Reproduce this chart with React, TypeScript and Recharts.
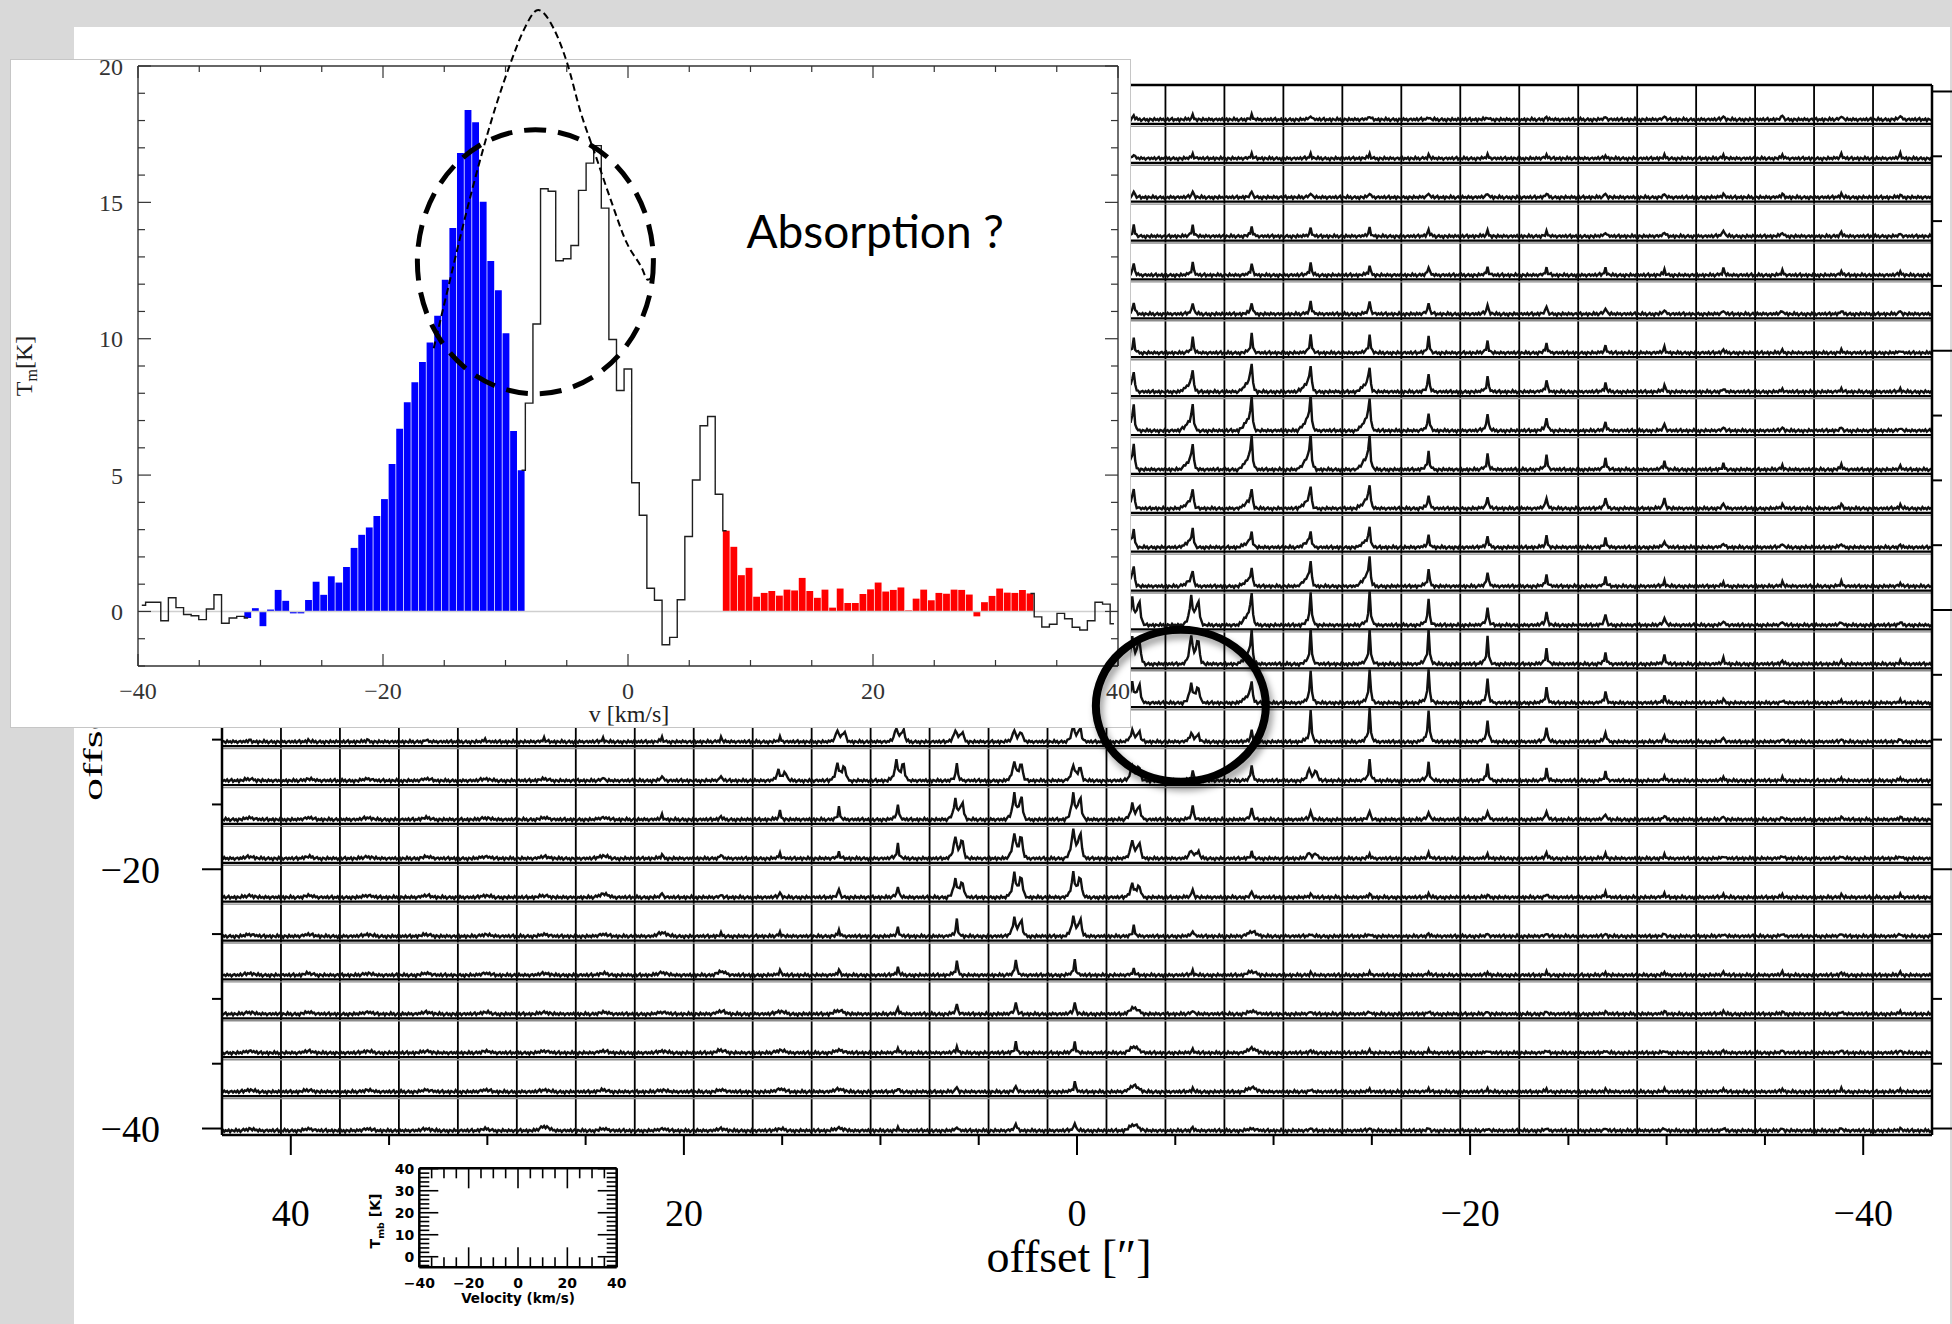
import React from 'react';
import { ComposedChart, Line, Bar, Cell, XAxis, YAxis, ReferenceLine, ReferenceDot } from 'recharts';

// ---------- inset spectrum: one channel every 0.62 km/s starting at -40 km/s ----------
const CHANNEL_START = -40;
const CHANNEL_WIDTH = 0.62;
const SPECTRUM_T = [
  0.23, 0.34, 0.34, -0.34, 0.5, 0.14, -0.11, -0.16, -0.3, 0.09,
  0.61, -0.43, -0.24, -0.18, -0.24, 0.12, -0.54, 0.07, 0.79, 0.39,
  -0.07, -0.07, 0.42, 1.09, 0.61, 1.29, 1.06, 1.63, 2.33, 2.81,
  3.08, 3.5, 4.12, 5.41, 6.7, 7.67, 8.4, 9.15, 9.86, 10.84,
  12.16, 14.06, 16.81, 18.39, 17.94, 15.02, 12.85, 11.78, 10.2, 6.62,
  5.18, 7.64, 10.54, 15.5, 15.41, 12.86, 12.93, 13.42, 15.44, 16.44,
  17.08, 14.79, 9.97, 8.1, 8.89, 4.72, 3.53, 0.85, 0.41, -1.22,
  -0.95, 0.43, 2.75, 4.82, 6.81, 7.15, 4.3, 2.96, 2.37, 1.33,
  1.6, 0.54, 0.68, 0.75, 0.58, 0.8, 0.77, 1.23, 0.75, 0.5,
  0.8, 0.14, 0.84, 0.31, 0.31, 0.64, 0.81, 1.06, 0.73, 0.79,
  0.88, 0.04, 0.47, 0.8, 0.41, 0.68, 0.65, 0.8, 0.79, 0.62,
  -0.18, 0.34, 0.57, 0.84, 0.69, 0.68, 0.79, 0.66, -0.2, -0.57,
  -0.47, -0.07, -0.27, -0.58, -0.68, -0.34, 0.34, 0.27, -0.45,
];
const BLUE_CHANNELS = [14, 50];
const RED_CHANNELS = [77, 117];
const INSET_V_TICKS = [-40, -35, -30, -25, -20, -15, -10, -5, 0, 5, 10, 15, 20, 25, 30, 35, 40];
const INSET_T_TICKS = [-2, -1, 0, 1, 2, 3, 4, 5, 6, 7, 8, 9, 10, 11, 12, 13, 14, 15, 16, 17, 18, 19, 20];

// hand-drawn dashed "fit" curve over the self-absorbed peak
const FIT_V = [-15.86, -14.65, -13.43, -12.11, -10.78, -9.56, -8.55, -7.33, -6.11, -4.99, -3.87, -2.65, -1.43, -0.11, 1.11, 1.62, 2.12];
const FIT_T = [9.65, 11.93, 14.21, 16.49, 18.54, 20.14, 21.28, 22.05, 21.41, 20.14, 18.31, 16.72, 15.12, 13.52, 12.61, 12.16, 12.38];

// ---------- spectral map: 29 x 27 cells, 3" apart ----------
const MAIN_TICKS = [-40, -35, -30, -25, -20, -15, -10, -5, 0, 5, 10, 15, 20, 25, 30, 35, 40];
const COL_OFFSETS = [42, 39, 36, 33, 30, 27, 24, 21, 18, 15, 12, 9, 6, 3, 0, -3, -6, -9, -12, -15, -18, -21, -24, -27, -30, -33, -36, -39, -42];
const ROW_OFFSETS = [39, 36, 33, 30, 27, 24, 21, 18, 15, 12, 9, 6, 3, 0, -3, -6, -9, -12, -15, -18, -21, -24, -27, -30, -33, -36, -39];
const CELL_V = [-39, -37, -35, -33, -31, -29, -27, -25, -23, -21, -19, -17, -15, -13, -11, -9, -7, -5, -3, -1,
  1, 3, 5, 7, 9, 11, 13, 15, 17, 19, 21, 23, 25, 27, 29, 31, 33, 35, 37, 39];

// line shapes on the CELL_V grid (peak = 1)
const PROFILE_NARROW = [0, 0, 0, 0, 0, 0, 0, 0, 0, 0, 0, 0, 0.02, 0.04, 0.06, 0.1, 0.16, 0.32, 1, 0.3,
  0.1, 0.05, 0.02, 0, 0, 0, 0, 0, 0, 0, 0, 0, 0, 0, 0, 0, 0, 0, 0, 0];
const PROFILE_WING = [0, 0, 0, 0, 0, 0, 0, 0, 0, 0, 0.05, 0.08, 0.12, 0.18, 0.25, 0.32, 0.4, 0.6, 1, 0.3,
  0.08, 0.03, 0, 0, 0, 0, 0, 0, 0, 0, 0, 0, 0, 0, 0, 0, 0, 0, 0, 0];
const PROFILE_DOUBLE = [0, 0, 0, 0, 0, 0, 0, 0, 0, 0, 0, 0, 0.04, 0.08, 0.15, 0.3, 0.6, 1, 0.6, 0.45,
  0.5, 0.75, 0.8, 0.3, 0.1, 0.04, 0, 0, 0, 0, 0, 0, 0, 0, 0, 0, 0, 0, 0, 0];
const PROFILE_BROAD = [0, 0, 0, 0, 0, 0, 0, 0, 0, 0, 0, 0, 0.1, 0.2, 0.35, 0.55, 0.75, 0.9, 1, 0.95,
  0.85, 0.65, 0.45, 0.28, 0.15, 0.07, 0, 0, 0, 0, 0, 0, 0, 0, 0, 0, 0, 0, 0, 0];
const BASELINE_RIPPLE = [0.8, -0.5, 1.4, -1.1, 0.4, 1.8, -1.3, 0.5, -0.4, 1.2, -1.6, 0.9, 0.1, -0.9, 1.9, -0.5, 1.0, -1.5, 0.0,
  1.3, -0.8, 0.5, -1.8, 1.0, 0.3, -1.2, 1.6, -0.4, 0.6, -1.0, 1.4, -0.3, 0.8, -1.4, 0.4, 1.1, -0.8];

// peak temperature [K] per cell, rows top->bottom, columns left->right
const PEAK_K = [
  [3, 3, 3, 3, 3, 3, 3, 3, 4, 4, 4, 4, 4, 5, 5, 5, 5, 5, 5, 4, 3, 3, 3, 3, 4, 4, 5, 5, 5],
  [3, 3, 3, 3, 3, 3, 4, 4, 4, 4, 4, 5, 5, 5, 5, 5, 5, 5, 5, 5, 4, 4, 4, 3, 3, 4, 4, 5, 5],
  [3, 3, 3, 3, 3, 4, 4, 4, 4, 5, 5, 5, 6, 6, 7, 7, 7, 7, 6, 5, 5, 5, 5, 5, 4, 4, 4, 4, 3],
  [3, 3, 3, 3, 4, 4, 4, 5, 5, 6, 6, 7, 8, 9, 10, 12, 13, 11, 9, 9, 8, 6, 5, 5, 5, 8, 5, 5, 3],
  [3, 3, 3, 3, 4, 4, 5, 5, 6, 6, 7, 8, 9, 11, 13, 14, 15, 13, 14, 11, 10, 9, 8, 8, 6, 8, 5, 4, 4],
  [3, 3, 3, 4, 4, 5, 5, 6, 6, 7, 8, 9, 10, 12, 13, 14, 14, 14, 15, 15, 13, 11, 9, 8, 5, 4, 4, 4, 4],
  [3, 3, 3, 4, 4, 5, 6, 7, 8, 9, 10, 11, 13, 15, 16, 17, 18, 22, 21, 21, 18, 14, 11, 8, 6, 4, 3, 3, 3],
  [3, 3, 4, 4, 5, 6, 7, 8, 9, 10, 12, 14, 16, 18, 21, 24, 26, 34, 31, 29, 21, 18, 13, 10, 8, 4, 3, 3, 3],
  [3, 3, 4, 4, 5, 6, 7, 9, 10, 12, 14, 16, 19, 22, 26, 29, 31, 39, 40, 39, 21, 21, 16, 10, 8, 4, 4, 4, 4],
  [3, 3, 4, 5, 5, 6, 8, 9, 11, 13, 15, 18, 21, 24, 27, 30, 31, 39, 40, 39, 21, 18, 16, 13, 10, 6, 5, 6, 4],
  [3, 3, 4, 5, 5, 6, 8, 9, 11, 13, 15, 17, 19, 21, 22, 23, 23, 23, 26, 29, 16, 14, 13, 13, 13, 6, 5, 5, 4],
  [3, 3, 4, 4, 5, 6, 7, 8, 10, 12, 14, 16, 18, 20, 21, 21, 21, 18, 18, 23, 13, 13, 13, 10, 8, 5, 5, 5, 3],
  [3, 3, 4, 4, 5, 6, 7, 9, 10, 12, 14, 16, 18, 20, 22, 24, 18, 21, 29, 34, 20, 17, 13, 10, 6, 4, 5, 5, 3],
  [3, 3, 4, 4, 5, 6, 8, 9, 11, 13, 16, 19, 22, 26, 30, 33, 34, 39, 40, 40, 31, 21, 16, 13, 10, 5, 4, 4, 4],
  [3, 3, 4, 4, 5, 6, 8, 10, 12, 14, 17, 20, 24, 28, 32, 33, 34, 39, 40, 40, 40, 31, 18, 13, 10, 6, 4, 3, 3],
  [3, 3, 3, 4, 4, 5, 7, 8, 10, 12, 15, 18, 21, 24, 26, 25, 23, 26, 39, 40, 40, 29, 18, 13, 8, 5, 3, 3, 3],
  [2, 2, 3, 3, 3, 4, 4, 5, 5, 5, 14, 17, 14, 14, 19, 14, 10, 14, 36, 38, 38, 26, 18, 12, 7, 5, 3, 3, 3],
  [2, 2, 2, 2, 2, 2, 5, 6, 6, 12, 21, 24, 21, 24, 19, 19, 12, 19, 14, 24, 21, 19, 14, 10, 5, 4, 3, 3, 3],
  [2, 2, 2, 2, 2, 2, 2, 5, 4, 10, 14, 19, 24, 31, 31, 19, 17, 14, 10, 10, 10, 10, 10, 7, 5, 4, 3, 3, 3],
  [2, 2, 2, 2, 2, 2, 3, 5, 5, 6, 7, 17, 26, 31, 36, 22, 10, 7, 7, 5, 6, 4, 7, 5, 4, 3, 3, 3, 3],
  [2, 2, 2, 2, 2, 2, 4, 5, 3, 6, 10, 14, 22, 29, 29, 17, 10, 7, 4, 4, 4, 3, 4, 6, 4, 3, 3, 3, 3],
  [2, 2, 2, 2, 2, 2, 2, 4, 3, 5, 7, 10, 19, 22, 24, 12, 7, 5, 3, 3, 3, 3, 3, 3, 3, 3, 3, 3, 3],
  [2, 2, 2, 2, 2, 2, 2, 3, 4, 6, 6, 9, 17, 19, 18, 7, 5, 4, 3, 3, 3, 3, 3, 3, 3, 3, 3, 3, 3],
  [2, 2, 2, 2, 2, 2, 2, 2, 3, 3, 4, 7, 12, 14, 14, 7, 5, 3, 3, 3, 3, 3, 3, 3, 3, 3, 3, 3, 3],
  [2, 2, 2, 2, 2, 2, 2, 2, 3, 3, 3, 5, 7, 12, 13, 7, 4, 5, 3, 3, 3, 3, 3, 3, 3, 3, 3, 3, 3],
  [2, 2, 2, 2, 2, 2, 2, 2, 2, 3, 3, 4, 6, 7, 12, 7, 4, 5, 3, 3, 3, 3, 3, 3, 3, 3, 3, 3, 3],
  [2, 2, 2, 2, 2, 5, 2, 2, 2, 2, 3, 3, 5, 9, 10, 7, 4, 2, 3, 3, 3, 3, 3, 3, 3, 3, 3, 3, 3],
];
// n = narrow line, w = narrow with blue wing, d = double peak, b = broad low bump
const SHAPE = [
  'nnnnnnnnnnnnnnnnnnnnnnnnnnnnn',
  'nnnnnnnnnnnnnnnnnnnnnnnnnnnnn',
  'nnnnnnnnnnnnnnnnnnnnnnnnnnnnn',
  'nnnnnnnnnnnnnnnnnnnnnnnnnnnnn',
  'nnnnnnnnnnnnnnnnnnnnnnnnnnnnn',
  'nnnnnnnnnnnnnnnnnnnnnnnnnnnnn',
  'nnnnnnnnnnnnnnnnnnnnnnnnnnnnn',
  'nnnnnnnnnnnnnnwwwwwwnnnnnnnnn',
  'nnnnnnnnnnnnnnwwwwwwnnnnnnnnn',
  'nnnnnnnnnnnnnnwwwwwwnnnnnnnnn',
  'nnnnnnnnnnnnnnwwwwwwnnnnnnnnn',
  'nnnnnnnnnnnnnnwwwwwwnnnnnnnnn',
  'nnnnnnnnnnnnnnwwwwwwnnnnnnnnn',
  'nnnnnnnnnnnnnnnddwnnnnnnnnnnn',
  'nnnnnnnnnnnnnnnddwnnnnnnnnnnn',
  'nnnnnnnnnnnnnnnddwnnnnnnnnnnn',
  'nnnnnnnnnnddddddd' + 'nnnnnnnnnnnn',
  'bbbbbbnnndddndddnndnnnnnnnnnn',
  'bbbbbbbnnnnnddddnnnnnnnnnnnnn',
  'bbbbbbbnnnnnddddd' + 'ndnnnnnnnnnn',
  'bbbbbbbnnnnnddddnnnnnnnnnnnnn',
  'bbbbbbbbnnnnnddnnbnnnnnnnnnnn',
  'bbbbbbbbbnnnnnnnnbnnnnnnnnnnn',
  'bbbbbbbbbbbnnnnbnbnnnnnnnnnnn',
  'bbbbbbbbbbbnnnnbnbnnnnnnnnnnn',
  'bbbbbbbbbbbnnnnbnbnnnnnnnnnnn',
  'bbbbbbbbbbbnnnnbnbnnnnnnnnnnn',
];

const KEY_V_TICKS = [-40, -35, -30, -25, -20, -15, -10, -5, 0, 5, 10, 15, 20, 25, 30, 35, 40];
const KEY_T_TICKS = [-4, -2, 0, 2, 4, 6, 8, 10, 12, 14, 16, 18, 20, 22, 24, 26, 28, 30, 32, 34, 36, 38, 40];

// ---------- derived tables ----------
const PROFILES: Record<string, number[]> = { n: PROFILE_NARROW, w: PROFILE_WING, d: PROFILE_DOUBLE, b: PROFILE_BROAD };
const CELL = 3;
const T_LO = -5;
const T_HI = 40.5;

const rowSeries = ROW_OFFSETS.map((yc, r) =>
  COL_OFFSETS.flatMap((xc, c) => {
    const prof = PROFILES[SHAPE[r][c]] || PROFILE_NARROW;
    return CELL_V.map((v, i) => {
      const t = BASELINE_RIPPLE[(i + 7 * c + 13 * r) % BASELINE_RIPPLE.length] + PEAK_K[r][c] * prof[i];
      return {
        x: xc + CELL / 2 - ((v + 40) / 80) * CELL,
        y: yc - CELL / 2 + ((t - T_LO) / (T_HI - T_LO)) * CELL,
      };
    });
  })
);

const inBlue = (i: number) => i >= BLUE_CHANNELS[0] && i <= BLUE_CHANNELS[1];
const inRed = (i: number) => i >= RED_CHANNELS[0] && i <= RED_CHANNELS[1];
const insetRows = SPECTRUM_T.map((t, i) => ({
  v: CHANNEL_START + CHANNEL_WIDTH * (i + 0.5),
  filled: inBlue(i) || inRed(i) ? t : null,
  outline:
    i <= BLUE_CHANNELS[0] || (i >= BLUE_CHANNELS[1] && i <= RED_CHANNELS[0]) || i >= RED_CHANNELS[1] ? t : null,
}));
const fitRows = FIT_V.map((v, i) => ({ v, t: FIT_T[i] }));
const keyRows = KEY_V_TICKS.map((v) => ({ v }));

// ---------- tick renderer (inward / outward, major + minor) ----------
type Side = 'top' | 'bottom' | 'left' | 'right';
interface TickStyle {
  side: Side;
  inward: boolean;
  majorStep: number;
  majorLen: number;
  minorLen: number;
  labels?: boolean;
  gap?: number;
  font?: string;
  size?: number;
  weight?: string;
  color?: string;
  width?: number;
}
const fmt = (v: number) => (v < 0 ? `\u2212${Math.abs(v)}` : `${v}`);

const makeTick = (s: TickStyle) => (props: any) => {
  const { x, y, payload } = props;
  const value = Number(payload.value);
  const q = value / s.majorStep;
  const major = Math.abs(q - Math.round(q)) < 1e-6;
  const len = major ? s.majorLen : s.minorLen;
  const away = s.side === 'bottom' || s.side === 'right' ? 1 : -1;
  const d = (s.inward ? -away : away) * len;
  const vert = s.side === 'top' || s.side === 'bottom';
  const color = s.color || '#000';
  const textProps = {
    fontFamily: s.font,
    fontSize: s.size,
    fontWeight: s.weight || 'normal',
    fill: color,
  };
  return (
    <g>
      {vert ? (
        <line x1={x} x2={x} y1={y} y2={y + d} stroke={color} strokeWidth={s.width || 1.5} />
      ) : (
        <line x1={x} x2={x + d} y1={y} y2={y} stroke={color} strokeWidth={s.width || 1.5} />
      )}
      {s.labels && major && s.side === 'bottom' && (
        <text x={x} y={y + (s.gap || 0)} textAnchor="middle" {...textProps}>
          {fmt(value)}
        </text>
      )}
      {s.labels && major && s.side === 'left' && (
        <text x={x - (s.gap || 0)} y={y} dy="0.36em" textAnchor="end" {...textProps}>
          {fmt(value)}
        </text>
      )}
    </g>
  );
};

const SERIF = 'Liberation Serif, DejaVu Serif, serif';

// ---------- the spectral map ----------
const MapXTitle = (props: any) => {
  const vb = props.viewBox || { x: 0, y: 0, width: 0 };
  return (
    <text x={vb.x + vb.width / 2 - 8} y={vb.y + 137} textAnchor="middle" fontFamily={SERIF} fontSize={46} fill="#000">
      offset [″]
    </text>
  );
};
const MapYTitle = () => (
  <text transform="translate(102 801) rotate(-90) scale(1 0.6)" fontFamily={SERIF} fontSize={46} fill="#000">
    offset [″]
  </text>
);

const SpectralMap = () => {
  const axisLine = { stroke: '#000', strokeWidth: 2.5 };
  const tk = { majorStep: 20, majorLen: 20, minorLen: 10, width: 2, font: SERIF, size: 38 };
  return (
    <ComposedChart width={1952} height={1324} margin={{ top: 65, right: 5, bottom: 89, left: 122 }}>
      <XAxis
        type="number"
        dataKey="x"
        domain={[-43.5, 43.5]}
        allowDataOverflow
        reversed
        ticks={MAIN_TICKS}
        interval={0}
        height={100}
        tickSize={0}
        tickMargin={0}
        tickLine={false}
        axisLine={axisLine}
        tick={makeTick({ side: 'bottom', inward: false, labels: true, gap: 91, ...tk })}
        label={<MapXTitle />}
      />
      <XAxis
        xAxisId="top"
        orientation="top"
        type="number"
        domain={[-43.5, 43.5]}
        allowDataOverflow
        reversed
        ticks={MAIN_TICKS}
        interval={0}
        height={20}
        tickSize={0}
        tickMargin={0}
        tickLine={false}
        axisLine={axisLine}
        tick={makeTick({ side: 'top', inward: false, ...tk })}
      />
      <YAxis
        type="number"
        domain={[-40.5, 40.5]}
        allowDataOverflow
        ticks={MAIN_TICKS}
        interval={0}
        width={100}
        tickSize={0}
        tickMargin={0}
        tickLine={false}
        axisLine={axisLine}
        tick={makeTick({ side: 'left', inward: false, labels: true, gap: 62, ...tk })}
        label={<MapYTitle />}
      />
      <YAxis
        yAxisId="right"
        orientation="right"
        type="number"
        domain={[-40.5, 40.5]}
        allowDataOverflow
        ticks={MAIN_TICKS}
        interval={0}
        width={15}
        tickSize={0}
        tickMargin={0}
        tickLine={false}
        axisLine={axisLine}
        tick={makeTick({ side: 'right', inward: false, ...tk })}
      />
      {COL_OFFSETS.slice(1).map((c) => (
        <ReferenceLine key={`v${c}`} x={c + CELL / 2} stroke="#000" strokeWidth={1.8} />
      ))}
      {ROW_OFFSETS.slice(0, -1).map((r) => (
        <ReferenceLine key={`h${r}`} y={r - CELL / 2} stroke="#000" strokeWidth={2.2} />
      ))}
      {ROW_OFFSETS.slice(0, -1).map((r) => (
        <ReferenceLine key={`g${r}`} y={r - CELL / 2 - 0.19} stroke="#8c8c8c" strokeWidth={1.4} />
      ))}
      {rowSeries.map((pts, r) => (
        <Line
          key={`row${r}`}
          data={pts}
          dataKey="y"
          type="linear"
          dot={false}
          activeDot={false}
          stroke="#111"
          strokeWidth={2.4}
          isAnimationActive={false}
        />
      ))}
    </ComposedChart>
  );
};

// ---------- small axes key (bottom left) ----------
const KEY_FONT = 'DejaVu Sans, Verdana, sans-serif';
const KeyXTitle = (props: any) => {
  const vb = props.viewBox || { x: 0, y: 0, width: 0 };
  return (
    <text x={vb.x + vb.width / 2} y={vb.y + 36} textAnchor="middle" fontFamily={KEY_FONT} fontWeight="bold" fontSize={13.5} fill="#000">
      Velocity (km/s)
    </text>
  );
};
const KeyYTitle = () => (
  <text transform="translate(40 71) rotate(-90)" textAnchor="middle" fontFamily={KEY_FONT} fontWeight="bold" fontSize={14} fill="#000">
    T
    <tspan fontSize={9.5} dy={4}>mb</tspan>
    <tspan dy={-4}> [K]</tspan>
  </text>
);

const VelocityKey = () => {
  const axisLine = { stroke: '#000', strokeWidth: 2.5 };
  const kx = { majorStep: 20, majorLen: 20, minorLen: 10, width: 1.6, font: KEY_FONT, size: 14, weight: 'bold' };
  const ky = { majorStep: 10, majorLen: 19, minorLen: 10, width: 1.6, font: KEY_FONT, size: 14, weight: 'bold' };
  return (
    <ComposedChart width={300} height={170} data={keyRows} margin={{ top: 8.3, right: 13.3, bottom: 22.7, left: 39.3 }}>
      <XAxis type="number" dataKey="v" domain={[-40, 40]} allowDataOverflow ticks={KEY_V_TICKS} interval={0} height={30}
        tickSize={0} tickMargin={0} tickLine={false} axisLine={axisLine}
        tick={makeTick({ side: 'bottom', inward: true, labels: true, gap: 21, ...kx })} label={<KeyXTitle />} />
      <XAxis xAxisId="top" orientation="top" type="number" dataKey="v" domain={[-40, 40]} allowDataOverflow ticks={KEY_V_TICKS}
        interval={0} height={10} tickSize={0} tickMargin={0} tickLine={false} axisLine={axisLine}
        tick={makeTick({ side: 'top', inward: true, ...kx })} />
      <YAxis type="number" domain={[-4.8, 40.2]} allowDataOverflow ticks={KEY_T_TICKS} interval={0} width={40}
        tickSize={0} tickMargin={0} tickLine={false} axisLine={axisLine}
        tick={makeTick({ side: 'left', inward: true, labels: true, gap: 5, ...ky })} label={<KeyYTitle />} />
      <YAxis yAxisId="right" orientation="right" type="number" domain={[-4.8, 40.2]} allowDataOverflow ticks={KEY_T_TICKS}
        interval={0} width={10} tickSize={0} tickMargin={0} tickLine={false} axisLine={axisLine}
        tick={makeTick({ side: 'right', inward: true, ...ky })} />
    </ComposedChart>
  );
};

// ---------- inset spectrum ----------
const InsetXTitle = () => (
  <text x={629} y={722} textAnchor="middle" fontFamily={SERIF} fontSize={24} fill="#222">
    v [km/s]
  </text>
);
const InsetYTitle = () => (
  <text transform="translate(32 366) rotate(-90)" textAnchor="middle" fontFamily={SERIF} fontSize={24} fill="#222">
    T
    <tspan fontSize={16} dy={5}>m</tspan>
    <tspan dy={-5}>[K]</tspan>
  </text>
);

const InsetSpectrum = () => {
  const axisLine = { stroke: '#333', strokeWidth: 1.4 };
  const tv = { majorStep: 20, majorLen: 12, minorLen: 6, width: 1.2, color: '#333', font: SERIF, size: 24 };
  const tt = { majorStep: 5, majorLen: 13, minorLen: 7, width: 1.2, color: '#333', font: SERIF, size: 24 };
  return (
    <ComposedChart width={1140} height={740} data={insetRows} barGap={0} barCategoryGap={0}
      margin={{ top: 56, right: 2, bottom: 34, left: 78 }}>
      <XAxis type="number" dataKey="v" domain={[-40, 40]} allowDataOverflow ticks={INSET_V_TICKS} interval={0}
        height={40} tickSize={0} tickMargin={0} tickLine={false} axisLine={axisLine}
        tick={makeTick({ side: 'bottom', inward: true, labels: true, gap: 33, ...tv })} label={<InsetXTitle />} />
      <XAxis xAxisId="top" orientation="top" type="number" dataKey="v" domain={[-40, 40]} allowDataOverflow ticks={INSET_V_TICKS}
        interval={0} height={10} tickSize={0} tickMargin={0} tickLine={false} axisLine={axisLine}
        tick={makeTick({ side: 'top', inward: true, ...tv })} />
      <YAxis type="number" domain={[-2, 20]} allowDataOverflow ticks={INSET_T_TICKS} interval={0} width={60}
        tickSize={0} tickMargin={0} tickLine={false} axisLine={axisLine}
        tick={makeTick({ side: 'left', inward: true, labels: true, gap: 15, ...tt })} label={<InsetYTitle />} />
      <YAxis yAxisId="right" orientation="right" type="number" domain={[-2, 20]} allowDataOverflow ticks={INSET_T_TICKS}
        interval={0} width={20} tickSize={0} tickMargin={0} tickLine={false} axisLine={axisLine}
        tick={makeTick({ side: 'right', inward: true, ...tt })} />
      <ReferenceLine y={0} stroke="#cfcfcf" strokeWidth={1.6} />
      <Line type="step" dataKey="outline" stroke="#1e1e1e" strokeWidth={1.4} dot={false} activeDot={false}
        connectNulls={false} isAnimationActive={false} />
      <Bar dataKey="filled" barSize={9} isAnimationActive={false}>
        {insetRows.map((_, i) => (
          <Cell key={i} fill={inBlue(i) ? '#0000ff' : '#ff0000'} />
        ))}
      </Bar>
    </ComposedChart>
  );
};

// ---------- annotations drawn in the inset's coordinates ----------
const AnnotationLayer = () => (
  <ComposedChart width={1952} height={1324} data={fitRows} margin={{ top: 0, right: 834, bottom: 658, left: 138 }}>
    <XAxis type="number" dataKey="v" domain={[-40, 40]} allowDataOverflow hide />
    <YAxis type="number" domain={[-2, 22.418]} allowDataOverflow hide />
    <Line type="monotone" dataKey="t" stroke="#000" strokeWidth={2} strokeDasharray="7 4" dot={false}
      activeDot={false} isAnimationActive={false} />
    <ReferenceDot
      x={-7.56}
      y={12.82}
      ifOverflow="visible"
      shape={(p: any) => (
        <ellipse cx={p.cx} cy={p.cy} rx={118} ry={132} fill="none" stroke="#000" strokeWidth={5} strokeDasharray="22 12" />
      )}
    />
    <ReferenceDot
      x={9.67}
      y={13.33}
      ifOverflow="visible"
      shape={(p: any) => (
        <text x={p.cx} y={p.cy} fontFamily="Lato, Open Sans, sans-serif" fontSize={46} fill="#000">
          Absorption ?
        </text>
      )}
    />
    <ReferenceDot
      x={45.13}
      y={-3.46}
      ifOverflow="visible"
      shape={(p: any) => (
        <g>
          <defs>
            <filter id="ringShadow" x="-30%" y="-30%" width="160%" height="160%">
              <feGaussianBlur stdDeviation="3" />
            </filter>
          </defs>
          <ellipse cx={p.cx + 3} cy={p.cy + 5} rx={85} ry={76} fill="none" stroke="#000" strokeOpacity={0.35}
            strokeWidth={9} filter="url(#ringShadow)" />
          <ellipse cx={p.cx} cy={p.cy} rx={85} ry={76} fill="none" stroke="#000" strokeWidth={8} />
        </g>
      )}
    />
  </ComposedChart>
);

export default function App() {
  const layer: React.CSSProperties = { position: 'absolute', left: 0, top: 0 };
  return (
    <div style={{ position: 'absolute', left: 0, top: 0, width: 1952, height: 1324, background: '#d9d9d9', overflow: 'hidden' }}>
      <div style={{ position: 'absolute', left: 74, top: 27, width: 1876, height: 1297, background: '#fff' }} />
      <div style={layer}>
        <SpectralMap />
      </div>
      <div style={{ position: 'absolute', left: 340, top: 1150 }}>
        <VelocityKey />
      </div>
      <div style={{ position: 'absolute', left: 10, top: 59, width: 1121, height: 669, background: '#fff', border: '1px solid #c6c6c6', boxSizing: 'border-box' }} />
      <div style={layer}>
        <InsetSpectrum />
      </div>
      <div style={{ ...layer, pointerEvents: 'none' }}>
        <AnnotationLayer />
      </div>
    </div>
  );
}
